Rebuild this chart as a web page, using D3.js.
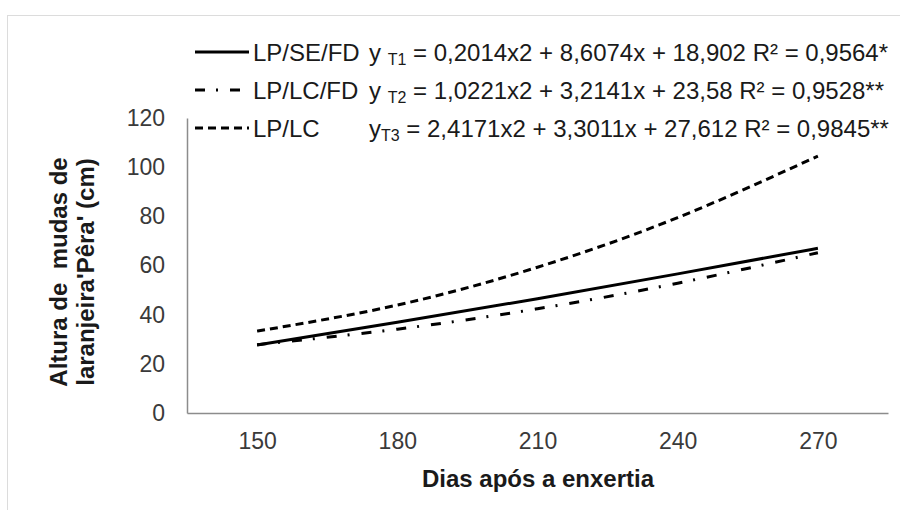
<!DOCTYPE html>
<html>
<head>
<meta charset="utf-8">
<script src="https://cdn.jsdelivr.net/npm/d3@7"></script>
<style>
  html, body { margin: 0; padding: 0; background: #fff; }
  svg { display: block; font-family: "Liberation Sans", Arial, sans-serif; }
  text { white-space: pre; }
</style>
</head>
<body>
<svg id="chart" width="900" height="510"></svg>
<script>
// Days after grafting (category axis)
const days = [150, 180, 210, 240, 270];
// Fitted seedling height (cm) for each treatment
const lpSeFd = [27.7, 36.9, 46.5, 56.6, 67.0];
const lpLcFd = [27.8, 34.1, 42.4, 52.8, 65.2];
const lpLc   = [33.3, 43.9, 59.3, 79.5, 104.5];
const yTicks = [0, 20, 40, 60, 80, 100, 120];

const seriesNames = ["LP/SE/FD", "LP/LC/FD", "LP/LC"];
const eqSub = ["T1", "T2", "T3"];
const eqText = [
  " = 0,2014x2 + 8,6074x + 18,902 R\u00B2 = 0,9564*",
  " = 1,0221x2 + 3,2141x + 23,58 R\u00B2 = 0,9528**",
  " = 2,4171x2 + 3,3011x + 27,612 R\u00B2 = 0,9845**"
];

const series = [
  { name: seriesNames[0], values: lpSeFd, dash: null },
  { name: seriesNames[1], values: lpLcFd, dash: "10,11,2,12" },
  { name: seriesNames[2], values: lpLc,   dash: "8,5" }
];

const svg = d3.select("#chart");

// outer chart frame
svg.append("rect")
  .attr("x", 7.5).attr("y", 15.5)
  .attr("width", 1000).attr("height", 1000)
  .attr("fill", "#fff").attr("stroke", "#dcdcdc").attr("stroke-width", 1);

const plot = { left: 187, right: 888, top: 118, bottom: 413 };

const x = d3.scalePoint().domain(days).range([plot.left, plot.right]).padding(0.5);
const y = d3.scaleLinear().domain([0, 120]).range([plot.bottom, plot.top]);

// y axis
const yAxis = svg.append("g")
  .attr("transform", `translate(${plot.left},0)`)
  .call(d3.axisLeft(y).tickValues(yTicks).tickSize(0).tickPadding(22));
yAxis.select(".domain").attr("stroke", "#8c8c8c").attr("stroke-width", 1.5);
yAxis.selectAll("text").attr("font-size", 23).attr("fill", "#3a3a3a")
  .attr("font-family", "Liberation Sans, Arial, sans-serif");

// x axis
const xAxis = svg.append("g")
  .attr("transform", `translate(0,${plot.bottom})`)
  .call(d3.axisBottom(x).tickSize(0).tickPadding(20));
xAxis.select(".domain").attr("stroke", "#8c8c8c").attr("stroke-width", 1.5);
xAxis.selectAll("text").attr("font-size", 23).attr("fill", "#3a3a3a")
  .attr("font-family", "Liberation Sans, Arial, sans-serif");

// lines
const line = d3.line()
  .x((d, i) => x(days[i]))
  .y(d => y(d))
  .curve(d3.curveNatural);

svg.append("g").selectAll("path")
  .data(series)
  .join("path")
  .attr("d", d => line(d.values))
  .attr("fill", "none")
  .attr("stroke", "#000")
  .attr("stroke-width", 3)
  .attr("stroke-dasharray", d => d.dash);

// axis titles
svg.append("text")
  .attr("x", 538)
  .attr("y", 487)
  .attr("text-anchor", "middle")
  .attr("font-size", 24).attr("font-weight", "bold").attr("fill", "#1a1a1a")
  .text("Dias após a enxertia");

const yTitle = svg.append("text")
  .attr("transform", "translate(0,272) rotate(-90)")
  .attr("text-anchor", "middle")
  .attr("font-size", 24).attr("font-weight", "bold").attr("fill", "#1a1a1a");
yTitle.append("tspan").attr("x", 0).attr("y", 67).text("Altura de  mudas de");
yTitle.append("tspan").attr("x", 0).attr("y", 94).text("laranjeira'Pêra' (cm)");

// legend with regression equations
const rowY = [52, 90, 128];
const legend = svg.append("g");
series.forEach((s, i) => {
  const g = legend.append("g").attr("transform", `translate(0,${rowY[i]})`);
  g.append("line")
    .attr("x1", 195).attr("x2", 249).attr("y1", 0).attr("y2", 0)
    .attr("stroke", "#000").attr("stroke-width", 3)
    .attr("stroke-dasharray", s.dash);
  g.append("text")
    .attr("x", 253).attr("y", 9)
    .attr("font-size", 24).attr("fill", "#1a1a1a")
    .text(s.name);
  const eq = g.append("text")
    .attr("x", 369).attr("y", 9)
    .attr("font-size", 24).attr("fill", "#1a1a1a");
  eq.append("tspan").text(i === 2 ? "y" : "y ");
  eq.append("tspan").attr("font-size", 16).attr("dy", 4).text(eqSub[i]);
  eq.append("tspan").attr("dy", -4).text(eqText[i]);
});
</script>
</body>
</html>
